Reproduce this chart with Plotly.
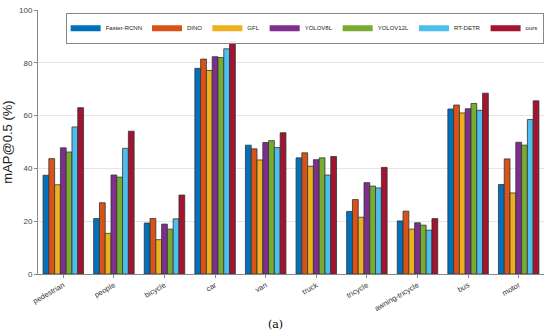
import plotly.graph_objects as go

categories = ["pedestrian", "people", "bicycle", "car", "van", "truck",
              "tricycle", "awning-tricycle", "bus", "motor"]
faster_rcnn = [37.4, 21.0, 19.3, 77.9, 48.8, 44.0, 23.7, 20.1, 62.5, 33.9]
dino        = [43.7, 27.0, 21.0, 81.4, 47.4, 45.9, 28.2, 23.8, 64.0, 43.6]
gfl         = [33.8, 15.4, 13.0, 77.1, 43.2, 40.8, 21.5, 17.0, 61.0, 30.7]
yolov8l     = [47.8, 37.5, 18.9, 82.3, 49.8, 43.3, 34.6, 19.4, 62.6, 49.9]
yolov12l    = [46.2, 36.7, 17.0, 82.0, 50.5, 44.0, 33.3, 18.5, 64.6, 48.8]
rt_detr     = [55.7, 47.6, 20.9, 85.3, 47.9, 37.5, 32.6, 16.6, 62.0, 58.5]
ours        = [63.0, 54.1, 29.9, 88.2, 53.5, 44.5, 40.4, 21.0, 68.5, 65.6]

series_names = ["Faster-RCNN", "DINO", "GFL", "YOLOV8L", "YOLOV12L", "RT-DETR", "ours"]
series_vals = [faster_rcnn, dino, gfl, yolov8l, yolov12l, rt_detr, ours]
colors = ["#0072BD", "#D95319", "#EDB120", "#7E2F8E", "#77AC30", "#4DBEEE", "#A2142F"]
y_ticks = [0, 20, 40, 60, 80, 100]

fig = go.Figure()
for name, vals, c in zip(series_names, series_vals, colors):
    fig.add_trace(go.Bar(x=categories, y=vals, name=name, marker_color=c,
                         marker_line=dict(color="#333333", width=0.8),
                         legendgroup=name, showlegend=False))
# legend-only entries with long rectangular swatches (no data points)
for name, c in zip(series_names, colors):
    fig.add_trace(go.Scatter(x=[None], y=[None], mode="lines", name=name,
                             legendgroup=name,
                             line=dict(color=c, width=6)))

fig.update_layout(
    width=550, height=336,
    margin=dict(l=36, r=6, t=9, b=62),
    paper_bgcolor="white", plot_bgcolor="white",
    barmode="group", bargap=0.2, bargroupgap=0.0,
    font=dict(family="Liberation Sans, Arial, sans-serif", size=8, color="#444444"),
    legend=dict(orientation="h", x=0.527, xanchor="center", y=0.99, yanchor="top",
                bordercolor="#888888", borderwidth=1, bgcolor="rgba(255,255,255,0.9)",
                font=dict(size=6, color="#222222"), itemwidth=30,
                tracegroupgap=0),
    showlegend=True,
)
fig.update_xaxes(showline=True, linecolor="#888888", linewidth=1,
                 ticks="outside", ticklen=3, tickcolor="#888888",
                 tickangle=-30, tickfont=dict(size=7.5, color="#333333"),
                 showgrid=False)
fig.update_yaxes(range=[0, 100], tickvals=y_ticks, showline=True,
                 linecolor="#888888", linewidth=1, ticks="outside", ticklen=3,
                 tickcolor="#888888", gridcolor="#E6E6E6", gridwidth=1,
                 tickfont=dict(size=8, color="#444444"),
                 title=dict(text="mAP@0.5 (%)", font=dict(size=13, color="#222222"),
                            standoff=4),
                 zeroline=False)
fig.add_annotation(text="(a)", xref="paper", yref="paper", x=0.47, y=-0.19,
                   yanchor="middle", showarrow=False,
                   font=dict(family="DejaVu Serif, serif", size=11, color="#000000"))
fig.write_html("out.html", config={"displayModeBar": False},
               post_script="document.body.style.margin='0';document.body.style.padding='0';")
